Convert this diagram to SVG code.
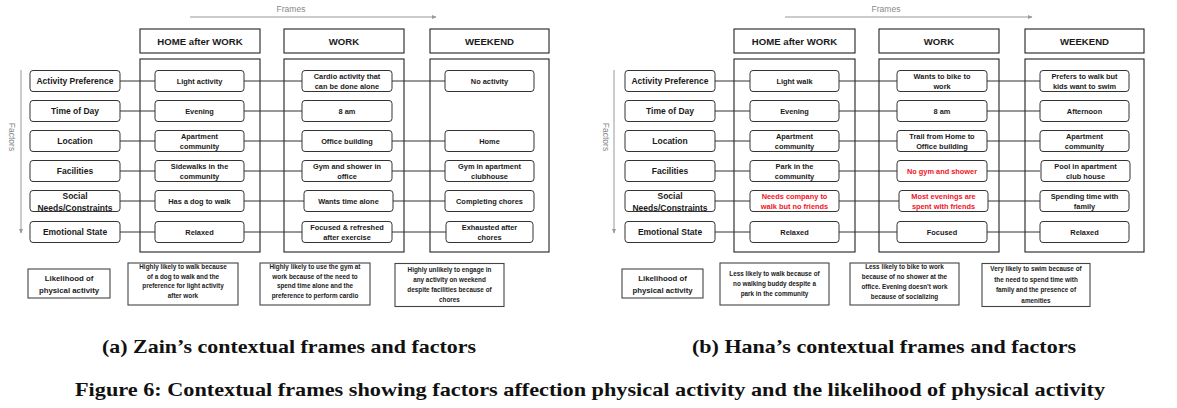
<svg xmlns="http://www.w3.org/2000/svg" width="1177" height="408" viewBox="0 0 1177 408">
<style>
text{font-family:"Liberation Sans",Arial,sans-serif;fill:#1a1a1a;text-anchor:middle}
.hdr rect{fill:#fff;stroke:#222;stroke-width:1.1}
.hdr text{font-size:9.6px;font-weight:bold}
.body{fill:#fff;stroke:#555;stroke-width:1.2}
.fac rect,.cell rect{fill:#fff;stroke:#333;stroke-width:1}
.fac text{font-size:8.5px;font-weight:bold}
.cell text{font-size:7.4px;font-weight:bold}
.red{fill:#f0141e !important}
.lk rect{fill:#fff;stroke:#444;stroke-width:1.1}
.lk text{font-size:6.35px;font-weight:bold}
.lk text.lab{font-size:7.8px;font-weight:bold}
.conn line{stroke:#333;stroke-width:1}
.axis{stroke:#999;stroke-width:1}
.axl{font-size:8.5px;fill:#888}
.cap{font-family:"Liberation Serif","Times New Roman",serif;font-weight:bold;fill:#111}
</style>
<defs>
<marker id="ah" markerWidth="5" markerHeight="5" refX="4" refY="2.5" orient="auto" markerUnits="userSpaceOnUse">
<path d="M0,0.5 L4.5,2.5 L0,4.5 z" fill="#999"/>
</marker>
</defs>

<!-- axes -->
<g id="axes">
<text class="axl" x="291" y="12">Frames</text>
<line class="axis" x1="190" y1="17" x2="436" y2="17" marker-end="url(#ah)"/>
<text class="axl" transform="translate(9,137) rotate(90)">Factors</text>
<line class="axis" x1="21" y1="70" x2="21" y2="233" marker-end="url(#ah)"/>
<text class="axl" x="886" y="12">Frames</text>
<line class="axis" x1="785" y1="17" x2="1032" y2="17" marker-end="url(#ah)"/>
<text class="axl" transform="translate(603,137) rotate(90)">Factors</text>
<line class="axis" x1="614" y1="70" x2="614" y2="233" marker-end="url(#ah)"/>
</g>

<!-- frame headers and bodies -->
<g id="frame-a-home" class="hdr"><rect x="140" y="29" width="120" height="24"/><text x="200" y="44.5">HOME after WORK</text><rect class="body" x="140" y="59" width="120" height="193"/></g>
<g id="frame-a-work" class="hdr"><rect x="284" y="29" width="120" height="24"/><text x="344" y="44.5">WORK</text><rect class="body" x="284" y="59" width="120" height="193"/></g>
<g id="frame-a-weekend" class="hdr"><rect x="430" y="29" width="119" height="24"/><text x="489.5" y="44.5">WEEKEND</text><rect class="body" x="430" y="59" width="119" height="193"/></g>
<g id="frame-b-home" class="hdr"><rect x="734" y="29" width="121" height="24"/><text x="794.5" y="44.5">HOME after WORK</text><rect class="body" x="734" y="59" width="121" height="193"/></g>
<g id="frame-b-work" class="hdr"><rect x="879" y="29" width="120" height="24"/><text x="939" y="44.5">WORK</text><rect class="body" x="879" y="59" width="120" height="193"/></g>
<g id="frame-b-weekend" class="hdr"><rect x="1025" y="29" width="119" height="24"/><text x="1084.5" y="44.5">WEEKEND</text><rect class="body" x="1025" y="59" width="119" height="193"/></g>

<!-- connectors -->
<g id="connectors" class="conn">
<line x1="120" y1="81" x2="155" y2="81"/><line x1="244" y1="81" x2="302" y2="81"/><line x1="392" y1="81" x2="445" y2="81"/>
<line x1="120" y1="111" x2="155" y2="111"/><line x1="244" y1="111" x2="302" y2="111"/>
<line x1="120" y1="141" x2="155" y2="141"/><line x1="244" y1="141" x2="302" y2="141"/><line x1="392" y1="141" x2="445" y2="141"/>
<line x1="120" y1="171" x2="155" y2="171"/><line x1="244" y1="171" x2="302" y2="171"/><line x1="392" y1="171" x2="445" y2="171"/>
<line x1="120" y1="201" x2="155" y2="201"/><line x1="244" y1="201" x2="304" y2="201"/><line x1="393" y1="201" x2="445" y2="201"/>
<line x1="120" y1="232" x2="155" y2="232"/><line x1="244" y1="232" x2="302" y2="232"/><line x1="392" y1="232" x2="446" y2="232"/>
<line x1="715" y1="81" x2="750" y2="81"/><line x1="839" y1="81" x2="897" y2="81"/><line x1="987" y1="81" x2="1040" y2="81"/>
<line x1="715" y1="111" x2="750" y2="111"/><line x1="839" y1="111" x2="897" y2="111"/><line x1="987" y1="111" x2="1040" y2="111"/>
<line x1="715" y1="141" x2="750" y2="141"/><line x1="839" y1="141" x2="897" y2="141"/><line x1="987" y1="141" x2="1040" y2="141"/>
<line x1="715" y1="171" x2="750" y2="171"/><line x1="839" y1="171" x2="897" y2="171"/><line x1="987" y1="171" x2="1040" y2="171"/>
<line x1="715" y1="201" x2="750" y2="201"/><line x1="839" y1="201" x2="899" y2="201"/><line x1="988" y1="201" x2="1040" y2="201"/>
<line x1="715" y1="232" x2="750" y2="232"/><line x1="839" y1="232" x2="897" y2="232"/><line x1="987" y1="232" x2="1040" y2="232"/>
</g>

<!-- factors (a) -->
<g id="a-f-activity" class="fac"><rect x="30" y="70.5" width="90" height="21" rx="3"/><text x="75" y="84">Activity Preference</text></g>
<g id="a-f-time" class="fac"><rect x="30" y="100.5" width="90" height="21" rx="3"/><text x="75" y="114">Time of Day</text></g>
<g id="a-f-location" class="fac"><rect x="30" y="130.5" width="90" height="21" rx="3"/><text x="75" y="144">Location</text></g>
<g id="a-f-facilities" class="fac"><rect x="30" y="160.5" width="90" height="21" rx="3"/><text x="75" y="174">Facilities</text></g>
<g id="a-f-social" class="fac"><rect x="30" y="190.5" width="90" height="21" rx="3"/><text x="75" y="199">Social</text><text x="75" y="211">Needs/Constraints</text></g>
<g id="a-f-emotional" class="fac"><rect x="30" y="221.5" width="90" height="21" rx="3"/><text x="75" y="235">Emotional State</text></g>

<!-- cells (a) home -->
<g id="a-h1" class="cell"><rect x="155" y="70.5" width="89" height="21" rx="3"/><text x="199.5" y="83.6">Light activity</text></g>
<g id="a-h2" class="cell"><rect x="155" y="100.5" width="89" height="21" rx="3"/><text x="199.5" y="113.6">Evening</text></g>
<g id="a-h3" class="cell"><rect x="155" y="130.5" width="89" height="21" rx="3"/><text x="199.5" y="138.6">Apartment</text><text x="199.5" y="148.6">community</text></g>
<g id="a-h4" class="cell"><rect x="155" y="160.5" width="89" height="21" rx="3"/><text x="199.5" y="168.6">Sidewalks in the</text><text x="199.5" y="178.6">community</text></g>
<g id="a-h5" class="cell"><rect x="155" y="190.5" width="89" height="21" rx="3"/><text x="199.5" y="203.6">Has a dog to walk</text></g>
<g id="a-h6" class="cell"><rect x="155" y="221.5" width="89" height="21" rx="3"/><text x="199.5" y="234.6">Relaxed</text></g>
<!-- cells (a) work -->
<g id="a-w1" class="cell"><rect x="302" y="70.5" width="90" height="21" rx="3"/><text x="347" y="78.6">Cardio activity that</text><text x="347" y="88.6">can be done alone</text></g>
<g id="a-w2" class="cell"><rect x="302" y="100.5" width="90" height="21" rx="3"/><text x="347" y="113.6">8 am</text></g>
<g id="a-w3" class="cell"><rect x="302" y="130.5" width="90" height="21" rx="3"/><text x="347" y="143.6">Office building</text></g>
<g id="a-w4" class="cell"><rect x="302" y="160.5" width="90" height="21" rx="3"/><text x="347" y="168.6">Gym and shower in</text><text x="347" y="178.6">office</text></g>
<g id="a-w5" class="cell"><rect x="304" y="190.5" width="89" height="21" rx="3"/><text x="348.5" y="203.6">Wants time alone</text></g>
<g id="a-w6" class="cell"><rect x="302" y="221.5" width="90" height="21" rx="3"/><text x="347" y="229.6">Focused &amp; refreshed</text><text x="347" y="239.6">after exercise</text></g>
<!-- cells (a) weekend -->
<g id="a-e1" class="cell"><rect x="445" y="70.5" width="89" height="21" rx="3"/><text x="489.5" y="83.6">No activity</text></g>
<g id="a-e3" class="cell"><rect x="445" y="130.5" width="89" height="21" rx="3"/><text x="489.5" y="143.6">Home</text></g>
<g id="a-e4" class="cell"><rect x="445" y="160.5" width="89" height="21" rx="3"/><text x="489.5" y="168.6">Gym in apartment</text><text x="489.5" y="178.6">clubhouse</text></g>
<g id="a-e5" class="cell"><rect x="445" y="190.5" width="89" height="21" rx="3"/><text x="489.5" y="203.6">Completing chores</text></g>
<g id="a-e6" class="cell"><rect x="446" y="221.5" width="87" height="21" rx="3"/><text x="489.5" y="229.6">Exhausted after</text><text x="489.5" y="239.6">chores</text></g>

<!-- likelihood (a) -->
<g id="a-l0" class="lk"><rect x="28" y="269" width="82" height="29"/><text class="lab" x="69" y="280.5">Likelihood of</text><text class="lab" x="69" y="293">physical activity</text></g>
<g id="a-l1" class="lk"><rect x="128" y="263" width="110" height="42"/><text x="183" y="269.4">Highly likely to walk because</text><text x="183" y="278.9">of a dog to walk and the</text><text x="183" y="288.4">preference for light activity</text><text x="183" y="297.9">after work</text></g>
<g id="a-l2" class="lk"><rect x="260" y="263" width="110" height="42"/><text x="315" y="269.4">Highly likely to use the gym at</text><text x="315" y="278.9">work because of the need to</text><text x="315" y="288.4">spend time alone and the</text><text x="315" y="297.9">preference to perform cardio</text></g>
<g id="a-l3" class="lk"><rect x="395" y="263.5" width="109" height="43"/><text x="449.5" y="272.4">Highly unlikely to engage in</text><text x="449.5" y="282.4">any activity on weekend</text><text x="449.5" y="292.4">despite facilities because of</text><text x="449.5" y="302.4">chores</text></g>

<!-- factors (b) -->
<g id="b-f-activity" class="fac"><rect x="625" y="70.5" width="90" height="21" rx="3"/><text x="670" y="84">Activity Preference</text></g>
<g id="b-f-time" class="fac"><rect x="625" y="100.5" width="90" height="21" rx="3"/><text x="670" y="114">Time of Day</text></g>
<g id="b-f-location" class="fac"><rect x="625" y="130.5" width="90" height="21" rx="3"/><text x="670" y="144">Location</text></g>
<g id="b-f-facilities" class="fac"><rect x="625" y="160.5" width="90" height="21" rx="3"/><text x="670" y="174">Facilities</text></g>
<g id="b-f-social" class="fac"><rect x="625" y="190.5" width="90" height="21" rx="3"/><text x="670" y="199">Social</text><text x="670" y="211">Needs/Constraints</text></g>
<g id="b-f-emotional" class="fac"><rect x="625" y="221.5" width="90" height="21" rx="3"/><text x="670" y="235">Emotional State</text></g>

<!-- cells (b) home -->
<g id="b-h1" class="cell"><rect x="750" y="70.5" width="89" height="21" rx="3"/><text x="794.5" y="83.6">Light walk</text></g>
<g id="b-h2" class="cell"><rect x="750" y="100.5" width="89" height="21" rx="3"/><text x="794.5" y="113.6">Evening</text></g>
<g id="b-h3" class="cell"><rect x="750" y="130.5" width="89" height="21" rx="3"/><text x="794.5" y="138.6">Apartment</text><text x="794.5" y="148.6">community</text></g>
<g id="b-h4" class="cell"><rect x="750" y="160.5" width="89" height="21" rx="3"/><text x="794.5" y="168.6">Park in the</text><text x="794.5" y="178.6">community</text></g>
<g id="b-h5" class="cell"><rect x="750" y="190.5" width="89" height="21" rx="3"/><text class="red" x="794.5" y="198.6">Needs company to</text><text class="red" x="794.5" y="208.6">walk but no friends</text></g>
<g id="b-h6" class="cell"><rect x="750" y="221.5" width="89" height="21" rx="3"/><text x="794.5" y="234.6">Relaxed</text></g>
<!-- cells (b) work -->
<g id="b-w1" class="cell"><rect x="897" y="70.5" width="90" height="21" rx="3"/><text x="942" y="78.6">Wants to bike to</text><text x="942" y="88.6">work</text></g>
<g id="b-w2" class="cell"><rect x="897" y="100.5" width="90" height="21" rx="3"/><text x="942" y="113.6">8 am</text></g>
<g id="b-w3" class="cell"><rect x="897" y="130.5" width="90" height="21" rx="3"/><text x="942" y="138.6">Trail from Home to</text><text x="942" y="148.6">Office building</text></g>
<g id="b-w4" class="cell"><rect x="897" y="160.5" width="90" height="21" rx="3"/><text class="red" x="942" y="173.6">No gym and shower</text></g>
<g id="b-w5" class="cell"><rect x="899" y="190.5" width="89" height="21" rx="3"/><text class="red" x="943.5" y="198.6">Most evenings are</text><text class="red" x="943.5" y="208.6">spent with friends</text></g>
<g id="b-w6" class="cell"><rect x="897" y="221.5" width="90" height="21" rx="3"/><text x="942" y="234.6">Focused</text></g>
<!-- cells (b) weekend -->
<g id="b-e1" class="cell"><rect x="1040" y="70.5" width="89" height="21" rx="3"/><text x="1084.5" y="78.6">Prefers to walk but</text><text x="1084.5" y="88.6">kids want to swim</text></g>
<g id="b-e2" class="cell"><rect x="1040" y="100.5" width="89" height="21" rx="3"/><text x="1084.5" y="113.6">Afternoon</text></g>
<g id="b-e3" class="cell"><rect x="1040" y="130.5" width="89" height="21" rx="3"/><text x="1084.5" y="138.6">Apartment</text><text x="1084.5" y="148.6">community</text></g>
<g id="b-e4" class="cell"><rect x="1041" y="160.5" width="89" height="21" rx="3"/><text x="1085.5" y="168.6">Pool in apartment</text><text x="1085.5" y="178.6">club house</text></g>
<g id="b-e5" class="cell"><rect x="1040" y="190.5" width="89" height="21" rx="3"/><text x="1084.5" y="198.6">Spending time with</text><text x="1084.5" y="208.6">family</text></g>
<g id="b-e6" class="cell"><rect x="1040" y="221.5" width="89" height="21" rx="3"/><text x="1084.5" y="234.6">Relaxed</text></g>

<!-- likelihood (b) -->
<g id="b-l0" class="lk"><rect x="622" y="269" width="81" height="29"/><text class="lab" x="662.5" y="280.5">Likelihood of</text><text class="lab" x="662.5" y="293">physical activity</text></g>
<g id="b-l1" class="lk"><rect x="720" y="263" width="109" height="42"/><text x="774.5" y="276.4">Less likely to walk because of</text><text x="774.5" y="286.2">no walking buddy despite a</text><text x="774.5" y="295.8">park in the community</text></g>
<g id="b-l2" class="lk"><rect x="850" y="263" width="109" height="42"/><text x="904.5" y="269.4">Less likely to bike to work</text><text x="904.5" y="279.4">because of no shower at the</text><text x="904.5" y="289.4">office. Evening doesn’t work</text><text x="904.5" y="299.4">because of socializing</text></g>
<g id="b-l3" class="lk"><rect x="982" y="263.5" width="108" height="43"/><text x="1036" y="271.4">Very likely to swim because of</text><text x="1036" y="282.2">the need to spend time with</text><text x="1036" y="292.4">family and the presence of</text><text x="1036" y="303">amenities</text></g>

<!-- captions -->
<g id="captions">
<text class="cap" x="289" y="353" font-size="19" textLength="374" lengthAdjust="spacingAndGlyphs">(a) Zain’s contextual frames and factors</text>
<text class="cap" x="884" y="353" font-size="19" textLength="384" lengthAdjust="spacingAndGlyphs">(b) Hana’s contextual frames and factors</text>
<text class="cap" x="590" y="396" font-size="19" textLength="1030" lengthAdjust="spacingAndGlyphs">Figure 6: Contextual frames showing factors affection physical activity and the likelihood of physical activity</text>
</g>
</svg>
